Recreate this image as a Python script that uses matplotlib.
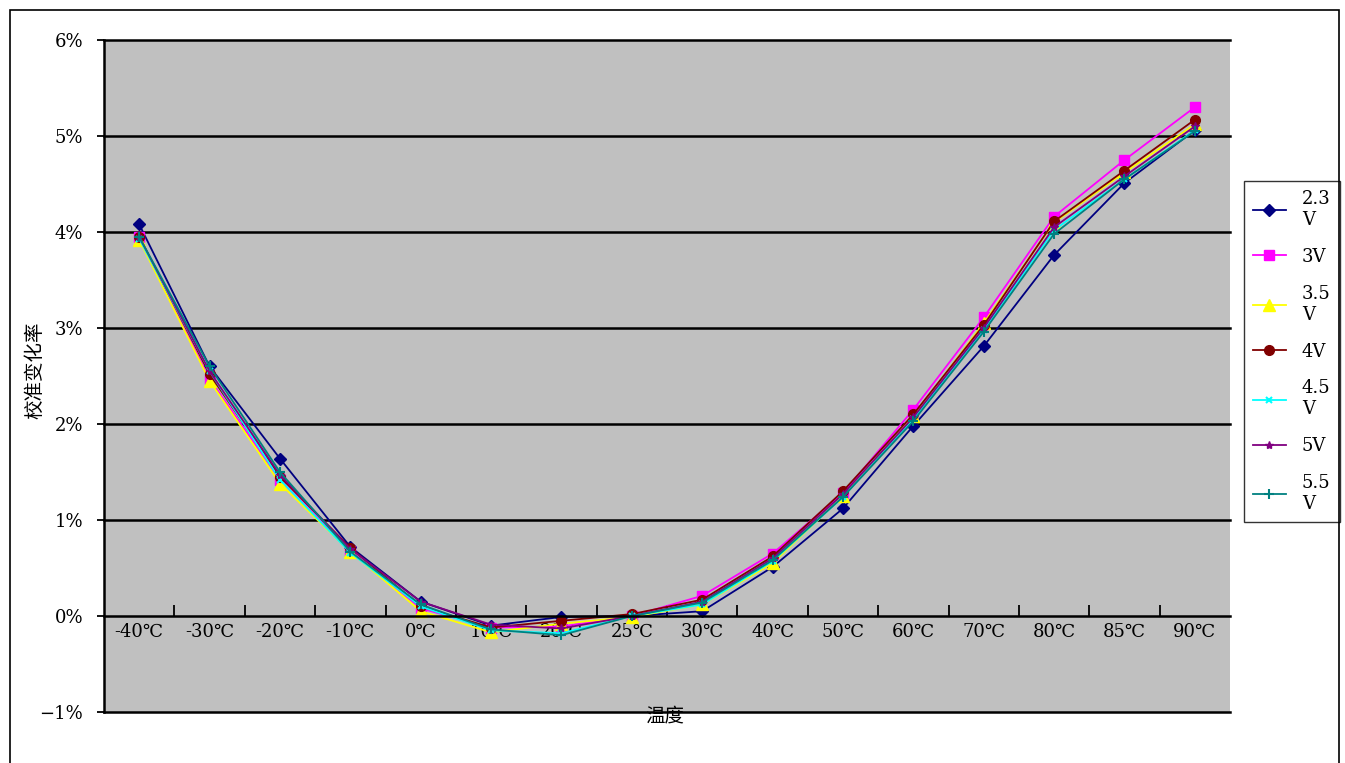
"""
Calibration change rate vs temperature for several supply voltages
"""
import matplotlib
matplotlib.use('Agg')
import matplotlib.pyplot as plt
from matplotlib.patches import Rectangle

plt.rcParams['font.family'] = ['DejaVu Serif', 'Noto Sans CJK SC', 'DejaVu Sans']

# Data (percent)
temps = ['-40℃', '-30℃', '-20℃', '-10℃', '0℃', '10℃', '20℃', '25℃',
         '30℃', '40℃', '50℃', '60℃', '70℃', '80℃', '85℃', '90℃']
v23 = [4.08, 2.60, 1.64, 0.72, 0.15, -0.10, -0.01, 0.00, 0.05, 0.51, 1.12, 1.98, 2.81, 3.76, 4.51, 5.06]
v30 = [3.95, 2.47, 1.42, 0.68, 0.08, -0.12, -0.11, 0.00, 0.21, 0.65, 1.28, 2.15, 3.11, 4.16, 4.75, 5.30]
v35 = [3.92, 2.45, 1.38, 0.67, 0.05, -0.17, -0.08, -0.01, 0.12, 0.55, 1.25, 2.08, 3.05, 4.10, 4.62, 5.12]
v40 = [3.95, 2.52, 1.45, 0.71, 0.10, -0.12, -0.05, 0.02, 0.17, 0.62, 1.30, 2.10, 3.03, 4.11, 4.64, 5.17]
v45 = [3.93, 2.55, 1.42, 0.66, 0.10, -0.15, -0.18, 0.00, 0.12, 0.57, 1.24, 2.05, 2.98, 4.02, 4.55, 5.06]
v50 = [3.95, 2.55, 1.47, 0.70, 0.15, -0.09, -0.13, 0.00, 0.15, 0.60, 1.27, 2.07, 3.00, 4.05, 4.58, 5.10]
v55 = [3.95, 2.60, 1.50, 0.67, 0.12, -0.14, -0.20, 0.00, 0.14, 0.58, 1.24, 2.03, 2.96, 3.98, 4.55, 5.05]
labels = ['2.3\nV', '3V', '3.5\nV', '4V', '4.5\nV', '5V', '5.5\nV']
y_ticks = [-1, 0, 1, 2, 3, 4, 5, 6]

series = [v23, v30, v35, v40, v45, v50, v55]
styles = [
    dict(color='#000080', marker='D', ms=6),
    dict(color='#FF00FF', marker='s', ms=7),
    dict(color='#FFFF00', marker='^', ms=8),
    dict(color='#800000', marker='o', ms=7),
    dict(color='#00FFFF', marker='x', ms=5, mew=1.5),
    dict(color='#800080', marker='*', ms=6),
    dict(color='#008080', marker='+', ms=7, mew=1.5),
]

fig = plt.figure(figsize=(13.45, 7.63), dpi=100)
# outer border
fig.patches.append(Rectangle((10 / 1345, -0.01), 1329 / 1345, 1 - 10 / 763 + 0.01,
                             transform=fig.transFigure, fill=False,
                             edgecolor='black', linewidth=1.2))

ax = fig.add_axes([104 / 1345, 1 - 712 / 763, 1126 / 1345, 672 / 763])
ax.set_facecolor('#C0C0C0')

x = list(range(len(temps)))
for vals, lab, st in zip(series, labels, styles):
    ax.plot(x, vals, lw=1.3, label=lab, clip_on=False, **st)

ax.set_xlim(-0.5, len(temps) - 0.5)
ax.set_ylim(-1, 6)

# horizontal gridlines
for v in y_ticks:
    if v != 0:
        ax.axhline(v, color='black', lw=1.8, zorder=1, clip_on=False)

ax.spines['top'].set_visible(False)
ax.spines['right'].set_visible(False)
ax.spines['left'].set_linewidth(1.8)
ax.spines['bottom'].set_position(('data', 0))
ax.spines['bottom'].set_linewidth(1.8)

ax.set_xticks(x)
ax.set_xticklabels(temps, fontsize=13)
ax.set_xticks([i + 0.5 for i in x[:-1]], minor=True)
ax.tick_params(axis='x', which='major', length=0, pad=5)
ax.tick_params(axis='x', which='minor', direction='in', length=8, width=1.3)

ax.set_yticks(y_ticks)
ax.set_yticklabels([('−' if v < 0 else '') + f'{abs(v)}%' for v in y_ticks], fontsize=13)
ax.tick_params(axis='y', direction='out', length=5, width=1.3, pad=10)

fig.text(35 / 1345, 1 - 370 / 763, '校准变化率', rotation=90, fontsize=14,
         ha='center', va='center')
fig.text(665 / 1345, 1 - 716 / 763, '温度', fontsize=14, ha='center', va='center')

leg = ax.legend(loc='upper left', bbox_to_anchor=(1244 / 1345, 1 - 181 / 763),
                bbox_transform=fig.transFigure, frameon=True, fancybox=False,
                fontsize=13, handlelength=1.8, labelspacing=1.05,
                borderpad=0.5, handletextpad=0.9, borderaxespad=0)
leg.get_frame().set_edgecolor('black')
leg.get_frame().set_linewidth(1.0)

fig.savefig('out.png', dpi=100)
